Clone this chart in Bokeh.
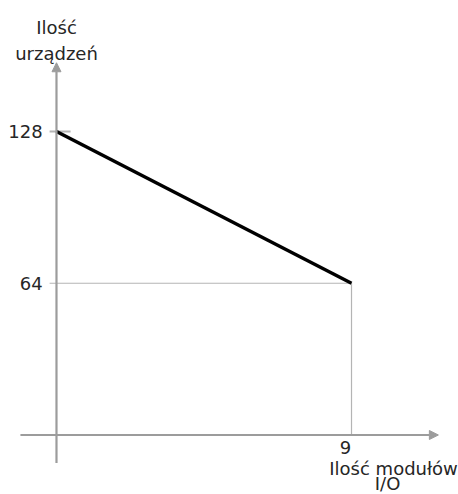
from bokeh.plotting import figure
from bokeh.models import Range1d, Arrow, NormalHead, Label, ColumnDataSource
from bokeh.embed import file_html
from bokeh.resources import INLINE

# data
modules = [0, 9]
devices = [128, 64]
y_tick_values = [128, 64]
y_tick_labels = ["128", "64"]
x_tick_values = [9]
x_tick_labels = ["9"]
y_title = ["Ilość", "urządzeń"]
x_title = ["Ilość modułów", "I/O"]

AXIS = "#9c9c9c"
GRID = "#b4b4b4"
TEXT = "#262626"
FONT = "DejaVu Sans"
FS = "18px"

p = figure(width=458, height=494, output_backend="svg", toolbar_location=None,
           x_range=Range1d(-1.708, 12.264), y_range=Range1d(-25.1, 183.26),
           x_axis_location=None, y_axis_location=None, min_border=0)
p.grid.visible = False
p.outline_line_color = None
p.background_fill_color = "white"

# guide lines
xmax = max(modules)
ylow = min(devices)
p.segment(x0=[-0.21], y0=[max(devices)], x1=[0.43], y1=[max(devices)], line_color=GRID, line_width=2)
p.segment(x0=[-0.21], y0=[ylow], x1=[xmax], y1=[ylow], line_color=GRID, line_width=1.2)
p.segment(x0=[xmax], y0=[ylow], x1=[xmax], y1=[0], line_color=GRID, line_width=1.2)

# axes with arrows
p.add_layout(Arrow(end=NormalHead(size=9, fill_color=AXIS, line_color=AXIS),
                   x_start=0, y_start=-11.8, x_end=0, y_end=157,
                   line_color=AXIS, line_width=2.2))
p.add_layout(Arrow(end=NormalHead(size=9, fill_color=AXIS, line_color=AXIS),
                   x_start=-1.1, y_start=0, x_end=11.65, y_end=0,
                   line_color=AXIS, line_width=2.2))

# data line
src = ColumnDataSource(dict(x=modules, y=devices))
p.line("x", "y", source=src, line_color="black", line_width=3.5)

# tick labels
for v, t in zip(y_tick_values, y_tick_labels):
    p.add_layout(Label(x=-0.42, y=v, text=t, text_align="right", text_baseline="middle",
                       text_font=FONT, text_font_size=FS, text_color=TEXT))
for v, t in zip(x_tick_values, x_tick_labels):
    p.add_layout(Label(x=v, y=0, y_offset=-6, x_offset=-6, text=t, text_align="center",
                       text_baseline="top", text_font=FONT, text_font_size=FS, text_color=TEXT))

# axis titles
p.add_layout(Label(x=0, y=157, y_offset=35, text=y_title[0],
                   text_align="center", text_baseline="alphabetic",
                   text_font=FONT, text_font_size=FS, text_color=TEXT))
p.add_layout(Label(x=0, y=157, y_offset=9, text=y_title[1],
                   text_align="center", text_baseline="alphabetic",
                   text_font=FONT, text_font_size=FS, text_color=TEXT))
p.add_layout(Label(x=12.0, y=0, x_offset=8, y_offset=-34, text=x_title[0],
                   text_align="right", text_baseline="alphabetic",
                   text_font=FONT, text_font_size=FS, text_color=TEXT))
p.add_layout(Label(x=10.1, y=0, x_offset=0, y_offset=-49, text=x_title[1],
                   text_align="center", text_baseline="alphabetic",
                   text_font=FONT, text_font_size=FS, text_color=TEXT))

open("out.html", "w").write(file_html(p, INLINE))
